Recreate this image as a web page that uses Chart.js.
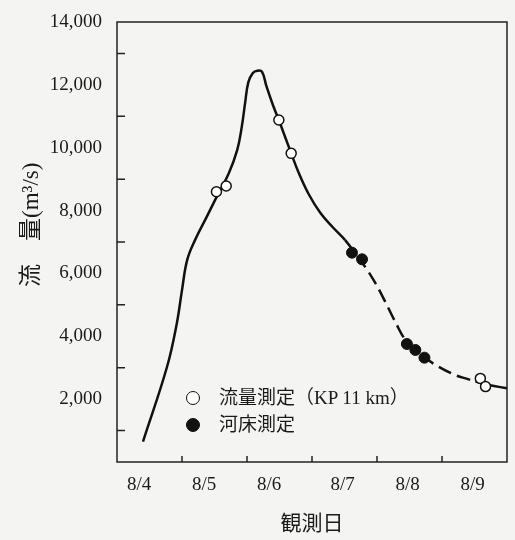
<!DOCTYPE html>
<html lang="ja">
<head>
<meta charset="utf-8">
<script src="https://cdn.jsdelivr.net/npm/chart.js@4/dist/chart.umd.min.js"></script>
<style>
	html, body { margin: 0; padding: 0; background: #f4f4f2; }
	#wrap { position: relative; width: 515px; height: 540px; }
	#legend {
		position: absolute; left: 186px; top: 384px;
		font-family: "Liberation Serif", "Noto Sans CJK JP", serif;
		font-size: 19px; color: #1a1a1a; line-height: 27px;
	}
	.row { display: flex; align-items: center; white-space: nowrap; }
	.mk { width: 14px; height: 14px; border-radius: 50%; box-sizing: border-box; border: 1.5px solid #111; margin-right: 19px; }
	.open { background: #fff; }
	.fill { background: #111; }
</style>
</head>
<body>
<div id="wrap">
	<canvas id="myChart" width="515" height="540"></canvas>
	<div id="legend"></div>
</div>
<script>
// x is days since 8/4 0:00
const dayLabels = ['8/4', '8/5', '8/6', '8/7', '8/8', '8/9'];
const dayLabelAt = [0.34, 1.34, 2.34, 3.47, 4.47, 5.47];
const dayTicks = [1, 2, 3, 4, 5];
const yLabelTicks = [2000, 4000, 6000, 8000, 10000, 12000, 14000];
const yMinorTicks = [1000, 3000, 5000, 7000, 9000, 11000, 13000];

// hydrograph
const curveDays = [0.40, 0.77, 0.92, 1.00, 1.08, 1.20, 1.38, 1.51, 1.72, 1.85, 1.92, 1.97, 2.02, 2.09, 2.16, 2.23, 2.30, 2.40, 2.49, 2.68, 2.80, 2.95, 3.13, 3.32, 3.51, 3.70, 3.85, 4.00, 4.15, 4.30, 4.42, 4.55, 4.73, 4.90, 5.20, 5.41, 5.55, 5.72, 6.00];
const curveFlow = [650, 3030, 4410, 5470, 6430, 7060, 7800, 8340, 9190, 9930, 10670, 11410, 12080, 12380, 12450, 12420, 11950, 11350, 10880, 9820, 9180, 8520, 7920, 7470, 7060, 6540, 6110, 5600, 5000, 4380, 3930, 3620, 3330, 3090, 2770, 2630, 2540, 2450, 2345];
const dashFrom = 3.51;
const dashTo = 5.55;

// 流量測定 (open circles)
const flowMeasDays = [1.53, 1.68, 2.49, 2.68, 5.59, 5.67];
const flowMeasValues = [8600, 8780, 10880, 9820, 2660, 2400];
// 河床測定 (filled circles)
const bedMeasDays = [3.615, 3.77, 4.46, 4.59, 4.73];
const bedMeasValues = [6660, 6450, 3755, 3565, 3320];

const seriesNames = ['流量測定（KP 11 km）', '河床測定'];

const ink = '#111';
const serif = '"Liberation Serif", "Noto Sans CJK JP", serif';

const toXY = (xs, ys) => xs.map((x, i) => ({ x, y: ys[i] }));

const frame = {
	id: 'frame',
	beforeDatasetsDraw(chart) {
		const { ctx, chartArea: a, scales: { x, y } } = chart;
		ctx.save();
		ctx.strokeStyle = '#222';
		ctx.lineWidth = 1.5;
		ctx.strokeRect(a.left, a.top, a.right - a.left, a.bottom - a.top);
		ctx.beginPath();
		dayTicks.forEach((d) => {
			const px = x.getPixelForValue(d);
			ctx.moveTo(px, a.bottom);
			ctx.lineTo(px, a.bottom - 6);
		});
		yMinorTicks.forEach((v) => {
			const py = y.getPixelForValue(v);
			ctx.moveTo(a.left, py);
			ctx.lineTo(a.left + 8, py);
		});
		ctx.stroke();
		ctx.restore();
	}
};

new Chart(document.getElementById('myChart'), {
	type: 'line',
	data: {
		datasets: [
			{
				label: seriesNames[0],
				data: toXY(flowMeasDays, flowMeasValues),
				showLine: false,
				pointRadius: 5,
				pointBackgroundColor: '#fff',
				pointBorderColor: ink,
				pointBorderWidth: 1.5
			},
			{
				label: seriesNames[1],
				data: toXY(bedMeasDays, bedMeasValues),
				showLine: false,
				pointRadius: 5.5,
				pointBackgroundColor: ink,
				pointBorderColor: ink,
				pointBorderWidth: 1
			},
			{
				label: 'curve',
				data: toXY(curveDays, curveFlow),
				borderColor: ink,
				borderWidth: 2.5,
				pointRadius: 0,
				tension: 0.4,
				segment: {
					borderDash: (c) => (c.p0.parsed.x >= dashFrom && c.p1.parsed.x <= dashTo) ? [14, 6] : []
				}
			}
		]
	},
	options: {
		responsive: false,
		animation: false,
		layout: { padding: { top: 22, right: 8, left: 0, bottom: 0 } },
		plugins: {
			legend: { display: false },
			tooltip: { enabled: false }
		},
		scales: {
			x: {
				type: 'linear',
				min: 0,
				max: 6,
				grid: { display: false },
				border: { display: false },
				afterBuildTicks: (s) => { s.ticks = dayLabelAt.map((v) => ({ value: v })); },
				afterFit: (s) => { s.height = 78; },
				ticks: {
					padding: 4,
					color: '#1a1a1a',
					font: { family: serif, size: 19 },
					maxRotation: 0,
					callback: (v, i) => dayLabels[i]
				},
				title: {
					display: true,
					text: '観測日',
					color: '#1a1a1a',
					font: { family: '"Noto Sans CJK JP", sans-serif', size: 21 },
					padding: { top: 0, bottom: 5 }
				}
			},
			y: {
				min: 0,
				max: 14000,
				grid: { display: false },
				border: { display: false },
				afterBuildTicks: (s) => { s.ticks = yLabelTicks.map((v) => ({ value: v })); },
				afterFit: (s) => { s.width = 117; },
				ticks: {
					padding: 7,
					color: '#1a1a1a',
					font: { family: serif, size: 19 },
					callback: (v) => v.toLocaleString('en-US')
				},
				title: {
					display: true,
					text: '\u3000  流\u3000量(m³/s)',
					color: '#1a1a1a',
					font: { family: serif, size: 23 },
					padding: { top: 18, bottom: 0 }
				}
			}
		}
	},
	plugins: [frame]
});

document.getElementById('legend').innerHTML =
	'<div class="row"><span class="mk open"></span>' + seriesNames[0] + '</div>' +
	'<div class="row"><span class="mk fill"></span>' + seriesNames[1] + '</div>';
</script>
</body>
</html>
